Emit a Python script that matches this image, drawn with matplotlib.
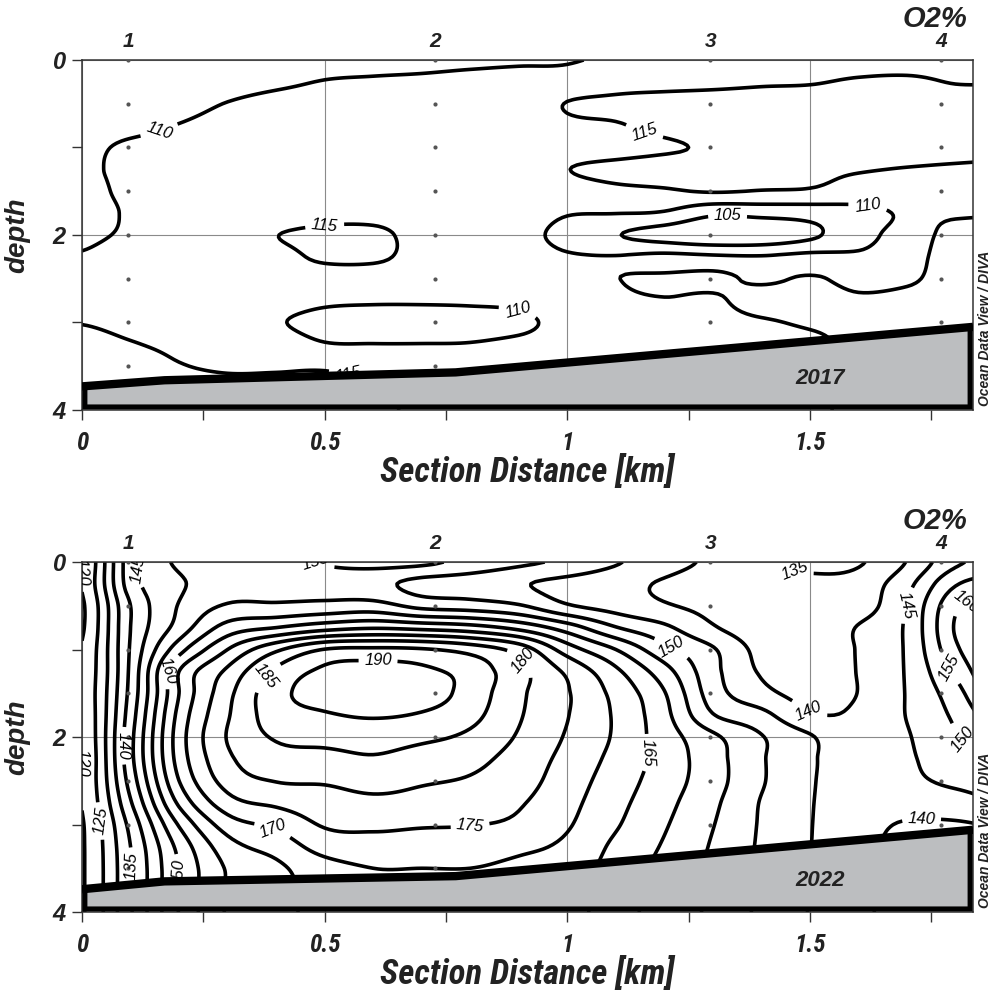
import numpy as np
import matplotlib
matplotlib.use("Agg")
import matplotlib.pyplot as plt
from matplotlib.patches import Polygon
from matplotlib import font_manager

# ---- data read off the two ODV sections (O2 saturation, %) ----
# field nodes: columns every 0.1 km (0 .. 1.9), rows every 0.25 depth (0 .. 4)
grid_km = np.round(np.arange(0, 2.0, 0.1), 2)
grid_depth = np.arange(0, 4.01, 0.25)

# 2017, one list per column (top -> bottom)
o2_2017_cols = [
    [108, 108.5, 108.5, 109, 109.5, 109.8, 109.5, 109.3, 109.5, 110.3, 112, 114, 114.9, 116, 116.5, 116.5, 116.5],
    [107.5, 108, 108.5, 109.3, 110.4, 110.4, 110.5, 110.3, 110.5, 111.5, 112.5, 113.5, 114.2, 115.2, 116.5, 116.5, 116.5],
    [107.5, 108, 109, 110.1, 111, 111.5, 112, 112, 112.3, 112.5, 112.8, 113.2, 113.8, 114.3, 115.2, 116.5, 116.5],
    [108, 108.8, 110.1, 111, 111.8, 112.5, 112.5, 112.5, 112.5, 112.5, 112.5, 112.5, 113, 113.5, 114.5, 116, 116],
    [108.5, 109.5, 110.8, 111.5, 112.5, 112.5, 112.5, 112.5, 114.9, 113.5, 112.5, 112, 110.5, 112.5, 114.5, 116, 116],
    [109, 110.1, 111, 112, 112.5, 112.5, 112.5, 113.5, 116, 115.8, 112.5, 110.8, 108.5, 110.3, 114.5, 116, 116],
    [109.2, 110.3, 111.2, 112, 112.5, 112.5, 112.5, 113.5, 116, 115.8, 112.5, 110.5, 108, 110.1, 113.5, 115.5, 116],
    [109.3, 110.5, 111.5, 112, 112.5, 112.5, 112.5, 113, 113.5, 113.5, 112.5, 110.5, 108, 110.1, 113, 114, 114],
    [109.5, 110.8, 111.5, 112, 112.5, 112.5, 112.5, 112.5, 112.5, 112.5, 112, 110.6, 108.3, 110.2, 112.5, 113, 113],
    [109.7, 111, 111.5, 112, 112.5, 112.5, 112.5, 112.3, 111.5, 112, 112, 111, 109, 111, 112.5, 113, 113],
    [109.8, 111.5, 115.2, 114, 113, 114.9, 113, 110.3, 108.5, 110.5, 112, 112.5, 111.5, 112, 112.5, 113, 113],
    [110.5, 113, 116, 114.7, 113.5, 116, 114, 110.1, 105.3, 110.2, 110.1, 110.8, 112, 112.5, 112.5, 113, 113],
    [111, 113.5, 116.5, 116, 114.5, 116.5, 114.5, 109.5, 103, 111, 109.5, 110.2, 112, 112.5, 112.5, 113, 113],
    [111.5, 114, 116.5, 116.5, 115.5, 116, 115.3, 106, 101, 110.5, 109.3, 110.5, 111.5, 112.5, 112.5, 113, 113],
    [112, 114.5, 116.5, 117, 116.5, 116, 114.8, 106.5, 101.5, 110.3, 110.5, 108.5, 110.5, 112, 112.5, 113, 113],
    [112.5, 114.7, 116.8, 117, 116.5, 115.8, 114.5, 107, 104, 111, 109.7, 108.5, 109.5, 111, 111, 111, 111],
    [113, 115.5, 117, 117, 116.5, 115.3, 113, 108.5, 108.5, 110.5, 110.8, 109.5, 109, 109, 109, 109, 109],
    [113, 115.8, 117, 117, 116.5, 114.8, 112.5, 110.5, 111, 111, 110.5, 109, 108.5, 108.5, 108.5, 108.5, 108.5],
    [113, 114.8, 116.8, 117, 116.3, 114.5, 113, 110.5, 109, 108.5, 108.5, 108.3, 108, 108, 108, 108, 108],
    [113, 114.8, 116.8, 117, 116, 114.3, 113, 110.3, 108.5, 108, 108, 108, 108, 108, 108, 108, 108],
]

# 2022, one list per column (top -> bottom)
o2_2022_cols = [
    [119.6, 120.3, 119.3, 119.4, 120.4, 120.8, 121, 120.6, 120.2, 119.8, 120.3, 120.2, 119.6, 119.5, 119.5, 119.5, 119.5],
    [143, 142.5, 140, 140, 140.5, 141, 141.5, 142.5, 143.5, 143.5, 142, 139.5, 136.5, 135, 134.5, 134.5, 134.5],
    [150.8, 149.3, 150.3, 152, 158, 165, 165, 166.5, 167.5, 167, 165, 161, 155.5, 151.5, 150.2, 150.2, 150.2],
    [152.5, 152.5, 155.5, 162, 170, 176, 178.5, 179.5, 180.3, 179, 177, 173, 167.5, 163, 160.5, 160.5, 160.5],
    [153.5, 153, 155.8, 165, 179, 186, 188.3, 187.5, 185.5, 183, 180.2, 176, 171, 167, 164, 164, 164],
    [155.3, 153, 156.5, 168, 185.2, 191, 192, 189.5, 186.5, 183.5, 180.5, 178, 175.5, 172, 168, 166, 166],
    [156.5, 151.5, 157, 169.5, 186, 192, 193.5, 190.5, 187, 184.5, 181.5, 179, 176, 173, 170, 168, 168],
    [156, 148.5, 153.5, 168.5, 185.5, 191, 192.5, 189.5, 186, 183, 180.5, 178.5, 175.5, 172.5, 170, 168, 168],
    [153.5, 147.5, 152.5, 167, 183, 188, 188, 186.5, 184, 181.5, 179.5, 177.5, 175.2, 172, 170, 168, 168],
    [151, 145.5, 150.5, 163.5, 178, 181.5, 181, 180.5, 179.5, 178, 177, 175.5, 174, 171, 169, 168, 168],
    [149, 143.5, 145.5, 157.5, 167.5, 174, 175.4, 175.2, 174.5, 173.5, 172.5, 171.5, 170.5, 169, 167.5, 167, 167],
    [145.5, 141.5, 143, 150.3, 160, 166, 168.5, 169.3, 169.3, 168.5, 167.5, 166.5, 165.5, 164, 163, 162, 162],
    [142, 139.5, 140.5, 146, 151.5, 157, 160.3, 161.5, 162.5, 163, 162.5, 161.5, 160.5, 159.5, 158.5, 158, 158],
    [139, 137.5, 138.5, 140.5, 145.5, 146.5, 147.5, 150.3, 156, 157, 157, 156, 155.2, 154.5, 154, 154, 154],
    [136, 136.5, 136.5, 137, 138.5, 139.5, 141.5, 146.5, 150.3, 150.5, 150.5, 149.7, 149.5, 149.3, 149, 149, 149],
    [134, 136, 136.5, 137, 137.5, 138, 138.5, 140.5, 145.5, 145.7, 145.5, 145.3, 145.2, 145.1, 144.8, 144.8, 144.8],
    [134.5, 137, 137.5, 140.3, 140.3, 140.2, 140.1, 140.8, 141, 142, 142.5, 142.5, 142, 141.5, 141, 141, 141],
    [140.2, 143.5, 145.3, 145.8, 145.7, 145.5, 145.3, 145.2, 144.6, 144.3, 144, 142.5, 139.5, 138.5, 138.5, 138.5, 138.5],
    [149, 154.5, 159, 160.5, 159, 156, 153, 151, 149.5, 148, 146, 143, 139.5, 138.5, 138.5, 138.5, 138.5],
    [152, 158, 164, 168, 168, 167, 164, 159, 154, 150.5, 147.5, 145, 140.5, 139, 139, 139, 139],
]

levels_2017 = [105, 110, 115]
levels_2022 = list(range(120, 195, 5))

# stations and bottle depths
station_names = ["1", "2", "3", "4"]
station_km = [0.095, 0.728, 1.295, 1.771]
station_depths = [
    [0, 0.5, 1, 1.5, 2, 2.5, 3, 3.5],
    [0, 0.5, 1, 1.5, 2, 2.5, 3, 3.5],
    [0, 0.5, 1, 1.5, 2, 2.5, 3],
    [0, 0.5, 1, 1.5, 2, 2.5, 3],
]

# sea floor
seabed_km = [0.0, 0.17, 0.77, 1.836]
seabed_2017 = [3.73, 3.66, 3.57, 3.05]
seabed_2022 = [3.74, 3.65, 3.59, 3.06]

# contour label anchor points (km, depth)
labels_2017 = [(0.16, 0.82), (0.50, 1.89), (0.9, 2.82), (0.55, 3.56),
               (1.16, 0.80), (1.62, 1.63), (1.33, 1.82)]
labels_2022 = [(0.005, 0.12), (0.005, 2.3), (0.12, 0.08), (0.17, 1.23), (0.08, 2.1),
               (0.05, 2.95), (0.09, 3.48), (0.21, 3.55), (0.39, 3.1), (0.8, 3.03),
               (0.37, 1.27), (0.61, 1.15), (0.9, 1.16), (0.44, 0.02), (1.22, 0.93),
               (1.17, 2.18), (1.5, 1.67), (1.47, 0.07), (1.68, 0.47), (1.82, 0.43),
               (1.79, 1.2), (1.82, 2.0), (1.73, 2.93)]

XMAX = 1.836

names = {f.name for f in font_manager.fontManager.ttflist}
narrow = None
for cand in ["Liberation Sans Narrow", "Roboto Condensed", "Open Sans Condensed"]:
    if cand in names:
        narrow = cand
        break
FONT = ["Liberation Sans", "DejaVu Sans"]
NARROW = [narrow, "Liberation Sans", "DejaVu Sans"] if narrow else FONT
XT_SIZE = 18 if narrow else 16
XL_SIZE = 25 if narrow else 21


def upsample(z, n, axis):
    # Catmull-Rom along one axis (uniform nodes), keeps node values
    m = z.shape[axis]
    t = np.linspace(0, m - 1, n)
    i = np.clip(np.floor(t).astype(int), 0, m - 2)
    f = t - i
    p0 = np.take(z, np.clip(i - 1, 0, m - 1), axis=axis)
    p1 = np.take(z, i, axis=axis)
    p2 = np.take(z, i + 1, axis=axis)
    p3 = np.take(z, np.clip(i + 2, 0, m - 1), axis=axis)
    shape = [1, 1]
    shape[axis] = n
    f = f.reshape(shape)
    return 0.5 * (2 * p1 + (p2 - p0) * f + (2 * p0 - 5 * p1 + 4 * p2 - p3) * f ** 2
                  + (3 * p1 - p0 - 3 * p2 + p3) * f ** 3)


def draw_section(ax, cols, levels, seabed, label_pts, year):
    z = np.array(cols, dtype=float).T
    nx, ny = 191, 161
    zf = upsample(upsample(z, ny, 0), nx, 1)
    kf = np.linspace(grid_km[0], grid_km[-1], nx)
    df = np.linspace(grid_depth[0], grid_depth[-1], ny)

    ax.grid(True, which="major", color="#8a8a8a", lw=0.8, zorder=0)
    ax.set_axisbelow(True)

    cs = ax.contour(kf, df, zf, levels=levels, colors="k", linewidths=2.6, zorder=2)
    txts = ax.clabel(cs, manual=label_pts, inline=True, inline_spacing=3,
                     fontsize=12, fmt="%d")
    for t in txts:
        t.set_fontstyle("italic")
        t.set_family(FONT)

    for sx, deps in zip(station_km, station_depths):
        ax.scatter([sx] * len(deps), deps, s=9, color="#555555", zorder=3, lw=0)

    # sea floor
    poly = [(0.006, seabed[0])] + [(x, d) for x, d in zip(seabed_km[1:-1], seabed[1:-1])]
    poly += [(XMAX - 0.006, seabed[-1]), (XMAX - 0.006, 3.965), (0.006, 3.965)]
    ax.add_patch(Polygon(poly, closed=True, facecolor="#bcbec0", edgecolor="k",
                         lw=3.6, zorder=5, clip_on=False, joinstyle="miter"))
    ax.plot(seabed_km, seabed, color="k", lw=6.0, zorder=6, solid_capstyle="butt")
    ax.text(1.52, 3.64, year, fontsize=16, fontweight="bold", fontstyle="italic",
            family=FONT, ha="center", va="center", color="#222", zorder=7)

    ax.set_xlim(0, XMAX)
    ax.set_ylim(4, 0)
    ax.set_xticks([0, 0.5, 1, 1.5])
    ax.set_xticks([0.25, 0.75, 1.25, 1.75], minor=True)
    ax.set_yticks([0, 2, 4])
    ax.set_yticks([1, 3], minor=True)
    ax.set_xticklabels(["0", "0.5", "1", "1.5"], family=NARROW, fontsize=XT_SIZE,
                       fontweight="bold", fontstyle="italic")
    ax.set_yticklabels(["0", "2", "4"], family=FONT, fontsize=17,
                       fontweight="bold", fontstyle="italic")
    ax.tick_params(which="both", direction="out", length=7, width=1,
                   color="#333", labelcolor="#222")
    ax.tick_params(axis="x", pad=8)
    ax.tick_params(axis="y", pad=5)
    for sp in ax.spines.values():
        sp.set_linewidth(1.1)
        sp.set_color("#333")

    ax.set_xlabel("Section Distance [km]", family=NARROW, fontsize=XL_SIZE,
                  fontweight="bold", fontstyle="italic", color="#222")
    ax.xaxis.set_label_coords(0.5, -0.125)
    ax.set_ylabel("depth", family=FONT, fontsize=20, fontweight="bold",
                  fontstyle="italic", color="#222")
    ax.yaxis.set_label_coords(-0.058, 0.5)

    trans = ax.get_xaxis_transform()
    for sx, name in zip(station_km, station_names):
        ax.text(sx, 1.052, name, transform=trans, ha="center", va="center",
                fontsize=15, fontweight="bold", fontstyle="italic", family=FONT,
                color="#222")
    ax.text(0.994, 1.118, "O2%", transform=ax.transAxes, ha="right", va="center",
            fontsize=21, fontweight="bold", fontstyle="italic", family=FONT,
            color="#222")
    ax.text(1.0135, 0.01, "Ocean Data View / DIVA", transform=ax.transAxes,
            rotation=90, ha="center", va="bottom", fontsize=10,
            fontweight="bold", fontstyle="italic", family=FONT, color="#222")


fig = plt.figure(figsize=(10.02, 9.94), dpi=100)
ax1 = fig.add_axes([82 / 1002, 1 - 410 / 994, 891 / 1002, 350 / 994])
ax2 = fig.add_axes([82 / 1002, 1 - 912 / 994, 891 / 1002, 350 / 994])

draw_section(ax1, o2_2017_cols, levels_2017, seabed_2017, labels_2017, "2017")
draw_section(ax2, o2_2022_cols, levels_2022, seabed_2022, labels_2022, "2022")

fig.savefig("out.png", dpi=100)
plt.close(fig)
